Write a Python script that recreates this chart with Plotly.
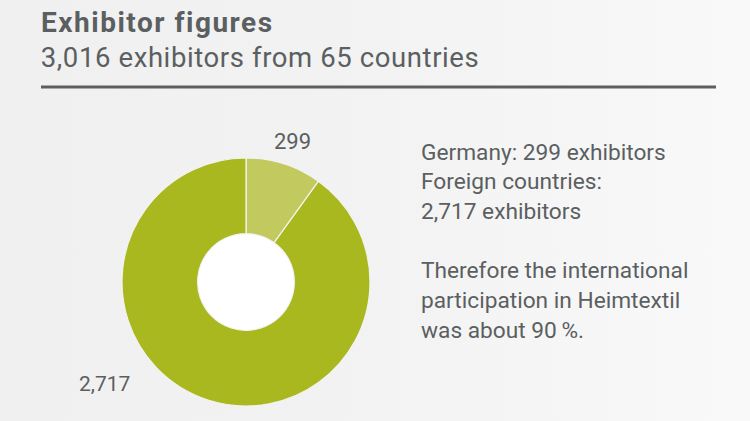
import plotly.graph_objects as go

# exhibitor counts
labels = ["Germany", "Foreign countries"]
exhibitors = [299, 2717]
slice_colors = ["#c2c95f", "#a9b81e"]

title = "Exhibitor figures"
subtitle = "3,016 exhibitors from 65 countries"
side_lines = [
    "Germany: 299 exhibitors",
    "Foreign countries:",
    "2,717 exhibitors",
    "Therefore the international",
    "participation in Heimtextil",
    "was about 90\u2009%.",
]
side_rows = [152, 181, 211, 270, 300, 330]

W, H = 750, 421
TEXT = "#5b5f61"
FONT = "Roboto"


def px_x(v):
    return v / W


def px_y(v):
    return 1 - v / H


fig = go.Figure()
fig.add_trace(go.Pie(
    labels=labels,
    values=exhibitors,
    hole=0.39,
    sort=False,
    direction="clockwise",
    rotation=0,
    textinfo="none",
    marker=dict(colors=slice_colors, line=dict(color="#f3f3f3", width=1.2)),
    domain=dict(x=[px_x(122), px_x(370)], y=[px_y(406), px_y(158)]),
    showlegend=False,
))


def add_text(x, y, text, size, bold=False):
    fig.add_annotation(
        x=px_x(x), y=px_y(y), xref="paper", yref="paper",
        text=f"<b>{text}</b>" if bold else text,
        showarrow=False, xanchor="left", yanchor="middle",
        font=dict(family=FONT, size=size, color=TEXT),
    )


# the two headings get letter spacing below, which grows them from their middle
add_text(52, 23, title, 28, bold=True)
add_text(49, 57, subtitle, 27.5)
add_text(272, 141, "299", 22)
add_text(77, 384, "2,717", 21)
for line, row in zip(side_lines, side_rows):
    add_text(419, row, line, 22.7)

fig.add_shape(
    type="line", xref="paper", yref="paper",
    x0=px_x(41), x1=px_x(716), y0=px_y(87), y1=px_y(87),
    line=dict(color=TEXT, width=3),
)
# white disc showing through the hole
fig.add_shape(
    type="circle", xref="paper", yref="paper", layer="below",
    x0=px_x(190), x1=px_x(302), y0=px_y(338), y1=px_y(226),
    fillcolor="#ffffff", line=dict(width=0),
)

fig.update_layout(
    width=W, height=H,
    margin=dict(l=0, r=0, t=0, b=0),
    paper_bgcolor="rgba(0,0,0,0)",
    plot_bgcolor="rgba(0,0,0,0)",
)

page_js = """
document.body.style.margin = '0';
document.body.style.background = 'linear-gradient(90deg, #f0f0f0, #f2f2f2 45%, #f9f9f9)';
document.querySelectorAll('.annotation-text').forEach(function (t) {
    if (t.textContent === 'Exhibitor figures') t.style.letterSpacing = '1.5px';
    if (t.textContent.startsWith('3,016')) t.style.letterSpacing = '0.6px';
});
"""

fig.write_html("out.html", config={"displayModeBar": False}, post_script=page_js)
